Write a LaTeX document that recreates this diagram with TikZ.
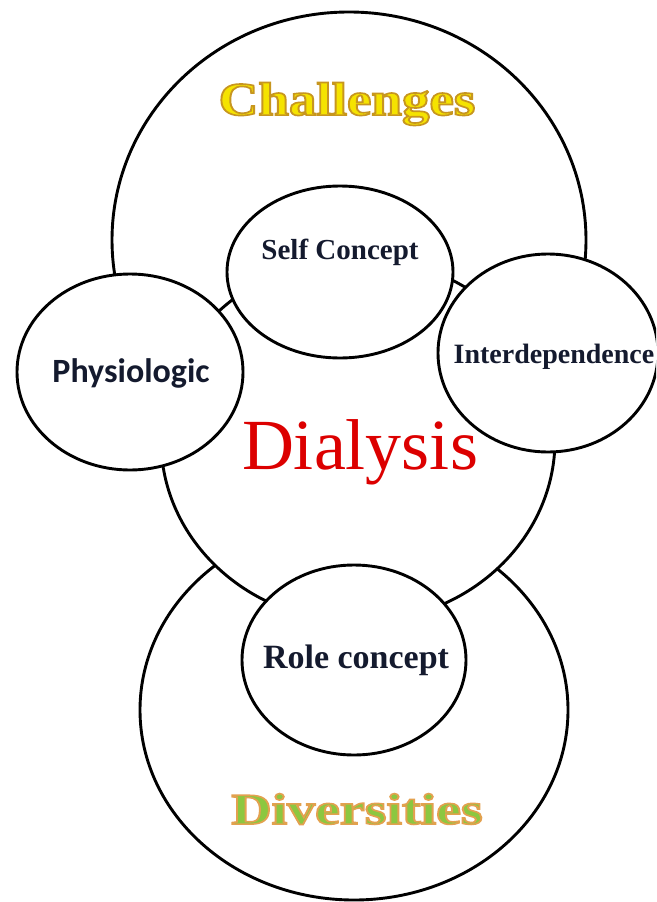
\documentclass[tikz,border=0pt]{standalone}
\usepackage{fontspec}
\usepackage{graphicx}
\usetikzlibrary{shapes.geometric}
\setmainfont{Liberation Serif}
\newfontfamily\calib{Carlito}
\newfontfamily\outlinefont[FakeBold=3.5]{Liberation Serif Bold}
\definecolor{navy}{HTML}{141A2E}
\definecolor{dialred}{HTML}{DC0000}
\newcommand{\twotone}[3]{\special{pdf:bcolor [#1] [#2]}#3\special{pdf:ecolor}}
\tikzset{
  ring/.style={ellipse, draw=black, fill=white, line width=2.9pt, inner sep=0pt},
  lbl/.style={text=navy, font=\bfseries, inner sep=0pt},
}
\begin{document}
\begin{tikzpicture}[x=1pt,y=-1pt]
\useasboundingbox (0,0) rectangle (656,902);
\clip (0,0) rectangle (656,902);
\fill[white] (0,0) rectangle (656,902);
% big circles
\node[ring, minimum width=474pt, minimum height=456pt] (top) at (349,240) {};
\node[ring, minimum width=428pt, minimum height=380pt] (bottom) at (354,710) {};
\node[ring, minimum width=394pt, minimum height=364pt] (dial) at (358,440) {};
% small circles
\node[ring, minimum width=226pt, minimum height=172pt] (self) at (340,272) {};
\node[ring, minimum width=226pt, minimum height=196pt] (phys) at (130,372) {};
\node[ring, minimum width=220pt, minimum height=198pt] (inter) at (548,353) {};
\node[ring, minimum width=224pt, minimum height=190pt] (role) at (354,660) {};
% texts
\node[inner sep=0pt] (tchal) at (347,104) {\scalebox{1.17}[1]{\fontsize{47}{50}\selectfont\outlinefont\twotone{0.96 0.89 0}{0.78 0.59 0.12}{Challenges}}};
\node[inner sep=0pt] (tdiv) at (357,809) {\scalebox{1.27}[1]{\fontsize{44}{48}\selectfont\outlinefont\twotone{0.55 0.78 0.25}{0.89 0.63 0.31}{Diversities}}};
\node[lbl, font=\fontsize{29}{32}\selectfont\bfseries] (tself) at (340,252) {Self Concept};
\node[lbl, font=\fontsize{34}{38}\selectfont\calib\bfseries] (tphys) at (131,373) {Physiologic};
\node[lbl, font=\fontsize{28}{32}\selectfont\bfseries] (tinter) at (554,357) {Interdependence};
\node[lbl, font=\fontsize{34}{38}\selectfont\bfseries] (trole) at (356,660) {Role concept};
\node[text=dialred, font=\fontsize{72}{78}\selectfont, inner sep=0pt] (tdial) at (360,452) {Dialysis};
\end{tikzpicture}
\end{document}
